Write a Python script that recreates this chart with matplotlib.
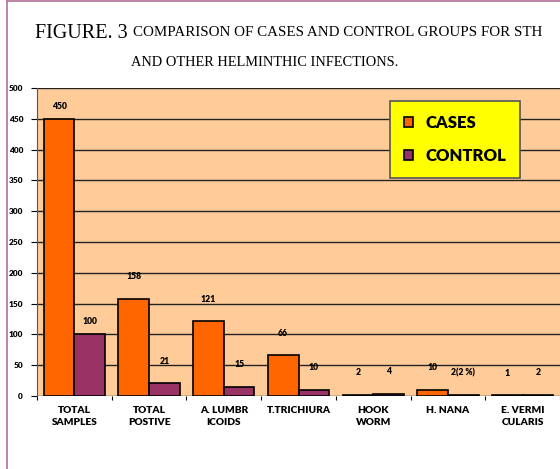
import matplotlib
matplotlib.use("Agg")
import matplotlib.pyplot as plt
import numpy as np
from matplotlib.lines import Line2D

categories = ["TOTAL\nSAMPLES", "TOTAL\nPOSTIVE", "A. LUMBR\nICOIDS", "T.TRICHIURA",
              "HOOK\nWORM", "H. NANA", "E. VERMI\nCULARIS"]
cases = [450, 158, 121, 66, 2, 10, 1]
control = [100, 21, 15, 10, 4, 2, 2]
cases_labels = ["450", "158", "121", "66", "2", "10", "1"]
control_labels = ["100", "21", "15", "10", "4", "2(2 %)", "2"]
yticks = [0, 50, 100, 150, 200, 250, 300, 350, 400, 450, 500]

W, H = 560, 469
fig = plt.figure(figsize=(W / 100, H / 100), dpi=100)
fig.patch.set_facecolor("white")

# document frame (pink border)
fig.add_artist(Line2D([6.5 / W, 6.5 / W], [0, 1 - 1 / H], color="#B87A9E", lw=1.3))
fig.add_artist(Line2D([6.5 / W, 1], [1 - 1.5 / H, 1 - 1.5 / H], color="#B87A9E", lw=1.3))

left, right, top, bottom = 37, 560, 88, 396
ax = fig.add_axes([left / W, (H - bottom) / H, (right - left) / W, (bottom - top) / H])
ax.set_facecolor("#FFCC99")

x = np.arange(len(categories))
bw = 0.41
b1 = ax.bar(x - bw / 2, cases, bw, color="#FF6600", edgecolor="black", linewidth=1.2,
            label="CASES", zorder=3)
b2 = ax.bar(x + bw / 2, control, bw, color="#993366", edgecolor="black", linewidth=1.2,
            label="CONTROL", zorder=3)

ax.set_xlim(-0.5, 6.5)
ax.set_ylim(0, 500)
ax.set_yticks(yticks)
ax.set_yticklabels([str(t) for t in yticks], fontsize=6.0, fontweight="heavy",
                   family="Lato")
ax.yaxis.grid(True, color="#222222", lw=1.0, zorder=1)
ax.set_axisbelow(True)
ax.tick_params(axis="y", length=4, width=0.8, pad=6, direction="out")
ax.set_xticks(x)
ax.set_xticklabels(categories, fontsize=7.3, fontweight="heavy", family="Lato",
                   linespacing=1.45)
ax.tick_params(axis="x", length=0, pad=7)
ax.set_xticks(np.arange(-0.5, 7, 1), minor=True)
ax.tick_params(axis="x", which="minor", length=3, width=0.8)
for s in ["top", "right"]:
    ax.spines[s].set_visible(False)
ax.spines["left"].set_color("#555555")
ax.spines["bottom"].set_visible(False)

for i, (r, lab) in enumerate(zip(b1, cases_labels)):
    off = 12 if i == 0 else 22
    ax.annotate(lab, (r.get_x() + r.get_width() / 2, r.get_height()),
                xytext=(0, off * 0.72), textcoords="offset points", ha="center",
                va="center", fontsize=6.2, fontweight="heavy", family="Lato",
                annotation_clip=False)
for i, (r, lab) in enumerate(zip(b2, control_labels)):
    off = 13 if i == 0 else 22
    ax.annotate(lab, (r.get_x() + r.get_width() / 2, r.get_height()),
                xytext=(0, off * 0.72), textcoords="offset points", ha="center",
                va="center", fontsize=6.2, fontweight="heavy", family="Lato",
                annotation_clip=False)

leg = ax.legend(loc="upper left", bbox_to_anchor=(390 / W, 1 - 101 / H),
                bbox_transform=fig.transFigure, frameon=True, fancybox=False,
                facecolor="#FFFF00", edgecolor="#555555", framealpha=1,
                prop={"family": "Lato", "weight": "heavy", "size": 12},
                handlelength=0.55, handleheight=0.55, handletextpad=0.7,
                labelspacing=1.0, borderpad=0.85, borderaxespad=0)
leg.get_frame().set_linewidth(1.2)
leg.set_zorder(5)

# title
fig.text(128 / W, 1 - 33 / H, "FIGURE. 3", ha="right", va="center",
         family="Liberation Serif", fontsize=14.5)
fig.text(133 / W, 1 - 33 / H, "COMPARISON OF CASES AND CONTROL GROUPS FOR STH",
         ha="left", va="center", family="Liberation Serif", fontsize=10.8)
fig.text(265 / W, 1 - 63 / H, "AND OTHER HELMINTHIC INFECTIONS.",
         ha="center", va="center", family="Liberation Serif", fontsize=10.4)

fig.savefig("out.png", dpi=100)
